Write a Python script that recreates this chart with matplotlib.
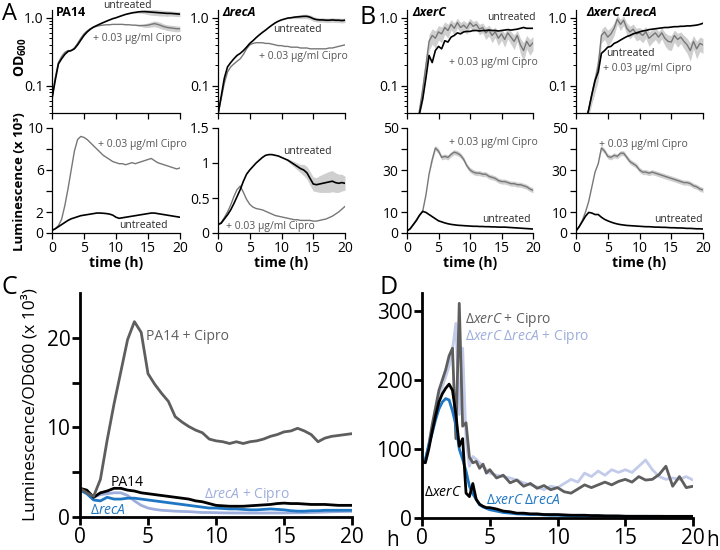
import numpy as np
import matplotlib
matplotlib.use("Agg")
import matplotlib.pyplot as plt
from matplotlib.ticker import LogLocator, NullFormatter

plt.rcParams['font.family'] = ['Open Sans', 'DejaVu Sans']
plt.rcParams['mathtext.fontset'] = 'custom'
plt.rcParams['mathtext.rm'] = 'Open Sans'
plt.rcParams['mathtext.it'] = 'Open Sans:italic'
plt.rcParams['mathtext.bf'] = 'Open Sans:bold'

# time grids (h)
t_h = np.arange(0, 20.5, 0.5)
t_d = np.concatenate([np.arange(0, 5.25, 0.25), np.arange(5.5, 20.5, 0.5)])

# ---- panel A: PA14 ----
pa14_od_unt = [0.065, 0.12, 0.21, 0.25, 0.29, 0.32, 0.33, 0.35, 0.40, 0.47,
               0.55, 0.62, 0.68, 0.73, 0.77, 0.81, 0.85, 0.89, 0.93, 0.97,
               1.00, 1.04, 1.08, 1.12, 1.15, 1.18, 1.20, 1.22, 1.23, 1.23,
               1.22, 1.21, 1.20, 1.19, 1.18, 1.17, 1.16, 1.16, 1.15, 1.14, 1.13]
pa14_od_unt_sd = [0.0] * 24 + [0.01, 0.02, 0.03, 0.05, 0.07, 0.09, 0.11, 0.12,
                               0.12, 0.12, 0.12, 0.11, 0.11, 0.10, 0.10, 0.10, 0.09]
pa14_od_cip = [0.065, 0.13, 0.22, 0.27, 0.31, 0.33, 0.33, 0.36, 0.42, 0.50,
               0.58, 0.64, 0.69, 0.73, 0.75, 0.77, 0.78, 0.79, 0.79, 0.80,
               0.80, 0.80, 0.80, 0.79, 0.79, 0.78, 0.78, 0.77, 0.77, 0.77,
               0.78, 0.80, 0.82, 0.80, 0.77, 0.74, 0.72, 0.71, 0.70, 0.69, 0.69]
pa14_od_cip_sd = [0.0] * 26 + [0.01, 0.02, 0.03, 0.05, 0.06, 0.07, 0.08, 0.08,
                               0.08, 0.07, 0.07, 0.07, 0.07, 0.07, 0.06]
pa14_lum_unt = [0.25, 0.4, 0.6, 0.8, 1.0, 1.2, 1.35, 1.45, 1.55, 1.65,
                1.7, 1.75, 1.8, 1.85, 1.9, 1.9, 1.88, 1.85, 1.8, 1.7,
                1.5, 1.4, 1.45, 1.5, 1.55, 1.6, 1.65, 1.7, 1.75, 1.8,
                1.85, 1.9, 1.9, 1.85, 1.8, 1.75, 1.7, 1.65, 1.6, 1.55, 1.5]
pa14_lum_cip = [0.25, 0.4, 0.7, 1.3, 2.6, 4.2, 6.0, 7.8, 8.9, 9.2,
                9.1, 8.9, 8.6, 8.3, 8.0, 7.7, 7.4, 7.2, 7.0, 6.8,
                6.7, 6.6, 6.6, 6.5, 6.6, 6.7, 6.6, 6.7, 6.8, 6.9,
                7.0, 7.1, 6.9, 6.7, 6.6, 6.5, 6.4, 6.3, 6.2, 6.1, 6.2]

# ---- panel A: delta recA ----
reca_od_unt = [0.038, 0.07, 0.13, 0.19, 0.22, 0.25, 0.28, 0.30, 0.33, 0.37,
               0.42, 0.46, 0.51, 0.56, 0.61, 0.66, 0.72, 0.78, 0.84, 0.89,
               0.93, 0.96, 0.99, 1.00, 1.02, 1.03, 1.04, 1.05, 1.05, 1.02,
               0.97, 0.94, 0.93, 0.93, 0.92, 0.92, 0.93, 0.92, 0.92, 0.91, 0.92]
reca_od_unt_sd = [0.0] * 22 + [0.02, 0.03, 0.05, 0.06, 0.07, 0.08, 0.08, 0.08,
                               0.08, 0.07, 0.07, 0.07, 0.07, 0.07, 0.07, 0.07,
                               0.07, 0.07, 0.07]
reca_od_cip = [0.038, 0.065, 0.11, 0.16, 0.19, 0.21, 0.23, 0.25, 0.29, 0.35,
               0.40, 0.42, 0.43, 0.43, 0.43, 0.42, 0.42, 0.41, 0.40, 0.39,
               0.39, 0.38, 0.38, 0.37, 0.37, 0.37, 0.36, 0.36, 0.36, 0.35,
               0.35, 0.35, 0.35, 0.35, 0.35, 0.36, 0.36, 0.37, 0.38, 0.39, 0.40]
reca_lum_unt = [0.12, 0.14, 0.2, 0.26, 0.33, 0.42, 0.52, 0.62, 0.74, 0.84,
                0.9, 0.95, 1.0, 1.04, 1.08, 1.11, 1.12, 1.12, 1.11, 1.10,
                1.08, 1.06, 1.04, 1.01, 0.98, 0.95, 0.92, 0.9, 0.86, 0.78,
                0.7, 0.69, 0.7, 0.71, 0.72, 0.73, 0.74, 0.72, 0.71, 0.72, 0.71]
reca_lum_unt_sd = [0.0] * 22 + [0.02, 0.03, 0.04, 0.05, 0.06, 0.08, 0.09, 0.1,
                                0.1, 0.1, 0.12, 0.13, 0.14, 0.15, 0.15, 0.14,
                                0.13, 0.12, 0.1]
reca_lum_cip = [0.12, 0.15, 0.22, 0.3, 0.4, 0.52, 0.62, 0.67, 0.58, 0.48,
                0.41, 0.37, 0.35, 0.34, 0.33, 0.31, 0.29, 0.27, 0.25, 0.24,
                0.23, 0.22, 0.21, 0.2, 0.19, 0.19, 0.18, 0.18, 0.18, 0.18,
                0.17, 0.17, 0.18, 0.19, 0.2, 0.22, 0.24, 0.27, 0.3, 0.34, 0.38]

# ---- panel B: delta xerC ----
xerc_od_unt = [0.02, 0.02, 0.02, 0.025, 0.04, 0.065, 0.13, 0.28, 0.22, 0.33,
               0.38, 0.35, 0.46, 0.44, 0.52, 0.55, 0.6, 0.58, 0.62, 0.63,
               0.63, 0.65, 0.65, 0.64, 0.65, 0.65, 0.66, 0.65, 0.65, 0.64,
               0.65, 0.66, 0.67, 0.66, 0.67, 0.68, 0.7, 0.72, 0.7, 0.7, 0.7]
xerc_od_cip = [0.02, 0.02, 0.02, 0.025, 0.045, 0.09, 0.2, 0.45, 0.55, 0.5,
               0.62, 0.58, 0.72, 0.65, 0.8, 0.7, 0.85, 0.72, 0.78, 0.7,
               0.85, 0.75, 0.8, 0.68, 0.72, 0.6, 0.66, 0.55, 0.62, 0.5,
               0.58, 0.48, 0.6, 0.52, 0.45, 0.55, 0.4, 0.33, 0.45, 0.38, 0.43]
xerc_od_cip_sd = [0, 0, 0, 0, 0.01, 0.03, 0.06, 0.12, 0.14, 0.14,
                  0.15, 0.15, 0.15, 0.15, 0.14, 0.14, 0.14, 0.13, 0.13, 0.13,
                  0.13, 0.13, 0.12, 0.12, 0.12, 0.12, 0.12, 0.12, 0.11, 0.11,
                  0.11, 0.11, 0.11, 0.11, 0.11, 0.1, 0.1, 0.1, 0.1, 0.1, 0.1]
xerc_lum_unt = [1, 2, 4, 6, 8.5, 10.3, 9.8, 8.8, 7.8, 6.8,
                5.8, 5.3, 4.8, 4.4, 4.1, 3.9, 3.7, 3.6, 3.5, 3.4,
                3.3, 3.2, 3.2, 3.1, 3.1, 3.0, 3.0, 2.9, 2.9, 2.8,
                2.8, 2.8, 2.7, 2.6, 2.5, 2.4, 2.3, 2.2, 2.1, 2.0, 1.9]
xerc_lum_cip = [1, 2, 4, 6.3, 8.5, 10.5, 18, 28, 35, 40.5,
                39, 36, 36.5, 36, 37.5, 38.5, 38, 37, 35, 32,
                30, 29, 28.5, 28.5, 28, 28, 27, 26.5, 26, 25,
                24.5, 24.5, 24, 23.5, 23.5, 23, 23, 22.5, 22, 21, 20.3]
xerc_lum_cip_sd = [0.0] * 8 + [1.2] * 33

# ---- panel B: delta xerC delta recA ----
xr_od_unt = [0.02, 0.02, 0.02, 0.03, 0.045, 0.075, 0.12, 0.16, 0.3, 0.33,
             0.37, 0.38, 0.42, 0.44, 0.47, 0.5, 0.53, 0.55, 0.58, 0.6,
             0.62, 0.64, 0.65, 0.67, 0.68, 0.69, 0.7, 0.71, 0.72, 0.72,
             0.73, 0.74, 0.74, 0.75, 0.75, 0.76, 0.76, 0.77, 0.78, 0.8, 0.83]
xr_od_cip = [0.02, 0.02, 0.02, 0.03, 0.045, 0.075, 0.12, 0.2, 0.55, 0.62,
             0.52, 0.58, 0.7, 0.95, 0.8, 0.92, 0.7, 0.62, 0.68, 0.58,
             0.6, 0.55, 0.62, 0.5, 0.55, 0.6, 0.52, 0.6, 0.5, 0.45,
             0.44, 0.55, 0.48, 0.52, 0.45, 0.4, 0.33, 0.45, 0.35, 0.42, 0.4]
xr_od_cip_sd = [0, 0, 0, 0, 0.01, 0.02, 0.04, 0.08, 0.12, 0.14,
                0.14, 0.14, 0.15, 0.15, 0.15, 0.15, 0.14, 0.13, 0.13, 0.12,
                0.12, 0.12, 0.12, 0.12, 0.12, 0.12, 0.11, 0.11, 0.11, 0.11,
                0.11, 0.11, 0.11, 0.1, 0.1, 0.1, 0.1, 0.1, 0.1, 0.1, 0.1]
xr_lum_unt = [1, 3, 5.5, 8, 9.8, 9.5, 8.8, 8.8, 7.5, 6.5,
              5.8, 5.2, 4.7, 4.3, 4.0, 3.8, 3.6, 3.5, 3.4, 3.3,
              3.2, 3.1, 3.0, 3.0, 2.9, 2.8, 2.8, 2.7, 2.7, 2.6,
              2.5, 2.5, 2.4, 2.4, 2.3, 2.2, 2.2, 2.1, 2.0, 2.0, 1.9]
xr_lum_cip = [1, 3, 6, 10, 15, 22, 29, 33, 40.5, 39,
              36.5, 36, 37, 36.5, 38, 38, 36, 34, 33, 32,
              30, 29, 29, 28.5, 29, 28.5, 28, 27.5, 27, 26.5,
              26, 25.5, 25, 24.5, 24, 24, 23.5, 22.5, 22, 21, 20.5]
xr_lum_cip_sd = [0.0] * 8 + [1.2] * 33

# ---- panel C: luminescence / OD600 (x 10^3) ----
c_pa14_cip = [3.2, 2.7, 2.3, 4.2, 8.6, 12.6, 16.2, 19.8, 21.8, 20.6,
              16.0, 14.8, 13.8, 12.9, 11.2, 10.6, 10.1, 9.7, 9.4, 8.7,
              8.5, 8.4, 8.2, 8.4, 8.2, 8.4, 8.5, 8.7, 9.0, 9.2,
              9.5, 9.6, 9.9, 9.6, 9.2, 8.4, 8.8, 9.0, 9.1, 9.2, 9.3]
c_pa14 = [3.2, 3.0, 2.2, 2.7, 2.9, 3.2, 3.2, 3.0, 2.9, 2.7,
          2.6, 2.5, 2.4, 2.3, 2.2, 2.1, 2.0, 1.8, 1.7, 1.5,
          1.3, 1.25, 1.2, 1.2, 1.2, 1.25, 1.3, 1.35, 1.4, 1.5,
          1.55, 1.5, 1.5, 1.45, 1.4, 1.4, 1.4, 1.35, 1.3, 1.3, 1.3]
c_reca = [3.0, 2.6, 1.9, 1.8, 2.2, 2.0, 2.0, 2.1, 2.1, 2.0,
          1.9, 1.8, 1.7, 1.6, 1.5, 1.4, 1.3, 1.2, 1.1, 1.0,
          1.0, 0.95, 0.9, 0.9, 0.85, 0.8, 0.8, 0.85, 0.9, 0.85,
          0.8, 0.7, 0.65, 0.65, 0.7, 0.7, 0.75, 0.75, 0.75, 0.75, 0.75]
c_reca_cip = [3.2, 2.8, 2.2, 2.5, 2.6, 2.7, 2.7, 2.4, 1.8, 1.3,
              1.0, 0.85, 0.75, 0.7, 0.65, 0.62, 0.6, 0.55, 0.5, 0.5,
              0.48, 0.46, 0.45, 0.45, 0.45, 0.44, 0.44, 0.44, 0.45, 0.45,
              0.45, 0.46, 0.47, 0.48, 0.5, 0.52, 0.55, 0.58, 0.6, 0.62, 0.63]

# ---- panel D: luminescence / OD600 ----
d_xerc = [82, 80, 100, 125, 148, 168, 180, 188, 194, 185, 150, 104, 115, 36, 31,
          50, 27, 20, 17, 15, 15,
          13, 10, 9, 7, 7, 6, 6, 5, 5, 5, 4.5, 4, 4, 4, 3.5,
          3.5, 3, 3, 3, 2.5, 2.5, 2.5, 2.5, 2.5, 2.5, 2.4, 2.4, 2.4, 2.4, 2.4]
d_xr = [82, 85, 105, 123, 142, 158, 168, 173, 171, 155, 135, 100, 85, 68, 46,
        35, 27, 19, 16, 14, 12,
        10, 8, 7, 6, 5.5, 5, 5, 4.5, 4, 4, 3.5, 3.5, 3, 3, 3,
        3, 2.8, 2.6, 2.5, 2.5, 2.4, 2.4, 2.4, 2.3, 2.3, 2.3, 2.2, 2.2, 2.2, 2.2]
d_xerc_cip = [80, 82, 105, 135, 160, 185, 200, 215, 235, 246, 115, 311, 133, 138, 88,
              80, 82, 72, 78, 65, 70,
              58, 62, 51, 55, 46, 50, 43, 47, 41, 44, 38, 36, 42, 48, 44,
              48, 52, 48, 53, 56, 52, 60, 55, 56, 63, 75, 46, 60, 44, 46]
d_xr_cip = [82, 85, 108, 130, 155, 178, 190, 205, 220, 244, 282, 150, 246, 114, 75,
            89, 85, 80, 75, 70, 65,
            62, 60, 58, 55, 51, 48, 45, 41, 46, 44, 50, 56, 52, 65, 60,
            68, 62, 70, 66, 70, 66, 75, 84, 70, 60, 56, 58, 56, 60, 55]

W, H = 720, 550
fig = plt.figure(figsize=(7.2, 5.5), dpi=100)

GREY = '#777777'
BAND = '#cfcfcf'
DGREY = '#5e5e5e'
BLUE = '#1f77c4'
LAV = '#9eaedc'
LAV_D = '#c3cbea'


def px_axes(x0, y0, x1, y1):
    return fig.add_axes([x0 / W, 1 - y1 / H, (x1 - x0) / W, (y1 - y0) / H])


def ftext(x, y, s, **kw):
    kw.setdefault('ha', 'center')
    kw.setdefault('va', 'center')
    return fig.text(x / W, 1 - y / H, s, **kw)


def small_style(ax):
    ax.spines[['top', 'right']].set_visible(False)
    ax.spines[['left', 'bottom']].set_linewidth(0.9)
    ax.tick_params(direction='out', length=4, width=0.9, labelsize=10, pad=2)
    ax.set_xlim(0, 20)
    ax.set_xticks([0, 5, 10, 15, 20])


def band(ax, t, y, sd):
    y = np.array(y)
    sd = np.array(sd)
    ax.fill_between(t, y - sd, y + sd, color=BAND, lw=0)


def od_panel(x0, x1, unt, cip, unt_sd=None, cip_sd=None):
    ax = px_axes(x0, 10, x1, 113)
    small_style(ax)
    if cip_sd is not None:
        band(ax, t_h, cip, cip_sd)
    if unt_sd is not None:
        band(ax, t_h, unt, unt_sd)
    ax.plot(t_h, cip, color=GREY, lw=1.0)
    ax.plot(t_h, unt, color='black', lw=1.2)
    ax.set_yscale('log')
    ax.set_ylim(0.04, 1.3)
    ax.set_yticks([0.1, 1.0])
    ax.set_yticklabels(['0.1', '1.0'])
    ax.yaxis.set_minor_locator(LogLocator(subs=np.arange(2, 10)))
    ax.yaxis.set_minor_formatter(NullFormatter())
    ax.tick_params(which='minor', length=2.2, width=0.7)
    ax.set_xticklabels([])
    return ax


def lum_panel(x0, x1, unt, cip, ymax, yticks, ylabels, unt_sd=None, cip_sd=None):
    ax = px_axes(x0, 128, x1, 233)
    small_style(ax)
    if cip_sd is not None:
        band(ax, t_h, cip, cip_sd)
    if unt_sd is not None:
        band(ax, t_h, unt, unt_sd)
    ax.plot(t_h, cip, color=GREY, lw=1.0)
    ax.plot(t_h, unt, color='black', lw=1.2)
    ax.set_ylim(0, ymax)
    ax.set_yticks(yticks)
    ax.set_yticklabels(ylabels)
    ax.set_xticklabels(['0', '5', '10', '15', '20'])
    ax.set_xlabel('time (h)', fontsize=10, fontweight='bold', labelpad=0)
    return ax


# top rows
od_panel(52, 180, pa14_od_unt, pa14_od_cip, pa14_od_unt_sd, pa14_od_cip_sd)
od_panel(218, 345, reca_od_unt, reca_od_cip, reca_od_unt_sd)
od_panel(407, 533, xerc_od_unt, xerc_od_cip, None, xerc_od_cip_sd)
od_panel(576, 703, xr_od_unt, xr_od_cip, None, xr_od_cip_sd)

lum_panel(52, 180, pa14_lum_unt, pa14_lum_cip, 10, [0, 2, 4, 6, 8, 10],
          ['0', '2', '', '6', '', '10'])
lum_panel(218, 345, reca_lum_unt, reca_lum_cip, 1.5, [0, 0.5, 1, 1.5],
          ['0', '0.5', '1', '1.5'], reca_lum_unt_sd)
lum_panel(407, 533, xerc_lum_unt, xerc_lum_cip, 50, [0, 10, 20, 30, 40, 50],
          ['0', '10', '', '30', '', '50'], None, xerc_lum_cip_sd)
lum_panel(576, 703, xr_lum_unt, xr_lum_cip, 50, [0, 10, 20, 30, 40, 50],
          ['0', '10', '', '30', '', '50'], None, xr_lum_cip_sd)


def big_style(ax):
    ax.spines[['top', 'right']].set_visible(False)
    ax.spines[['left', 'bottom']].set_linewidth(2)
    ax.tick_params(direction='out', length=6, width=2, labelsize=15, pad=1)
    ax.set_xlim(0, 20)
    ax.set_xticks([0, 5, 10, 15, 20])


# panel C
axc = px_axes(80, 293, 352, 517)
big_style(axc)
axc.plot(t_h, c_reca_cip, color=LAV, lw=2)
axc.plot(t_h, c_reca, color=BLUE, lw=2)
axc.plot(t_h, c_pa14, color='black', lw=2)
axc.plot(t_h, c_pa14_cip, color=DGREY, lw=2)
axc.set_ylim(0, 25)
axc.set_yticks([0, 5, 10, 15, 20])
axc.set_yticklabels(['0', '', '10', '', '20'])

# panel D
axd = px_axes(422, 293, 693, 518)
big_style(axd)
axd.plot(t_d, d_xr_cip, color=LAV_D, lw=2)
axd.plot(t_d, d_xerc_cip, color=DGREY, lw=2)
axd.plot(t_d, d_xr, color=BLUE, lw=2)
axd.plot(t_d, d_xerc, color='black', lw=2)
axd.set_ylim(0, 326)
axd.set_yticks([0, 100, 200, 300])

# panel letters
ftext(9, 14, 'A', fontsize=17)
ftext(368, 17, 'B', fontsize=18)
ftext(9, 287, 'C', fontsize=18)
ftext(389, 287, 'D', fontsize=18)

# strain titles
ftext(56, 13, 'PA14', ha='left', fontsize=9, fontweight='bold')
ftext(222, 13, '\u0394recA', ha='left', fontsize=9, fontweight='bold', style='italic')
ftext(412, 13, '\u0394xerC', ha='left', fontsize=9, fontweight='bold', style='italic')
ftext(586, 13, '\u0394xerC \u0394recA', ha='left', fontsize=9, fontweight='bold', style='italic')

# axis titles for the top rows
ftext(21, 57, r'OD$\mathbf{_{600}}$', rotation=90, fontsize=10, fontweight='bold')
ftext(20, 182, 'Luminescence (x 10\u00b3)', rotation=90, fontsize=9.5, fontweight='bold')
ftext(30, 405, 'Luminescence/OD600 (x 10\u00b3)', rotation=90, fontsize=12.5)

# curve annotations, top rows
UNT_C = '#2a2a2a'
CIP_C = '#555555'
cip_txt = '+ 0.03 \u00b5g/ml Cipro'
ann = [
    (127, 5, 'untreated', UNT_C), (137, 38, cip_txt, CIP_C),
    (297, 30, 'untreated', UNT_C), (303, 56, cip_txt, CIP_C),
    (511, 18, 'untreated', UNT_C), (493, 63, cip_txt, CIP_C),
    (630, 53, 'untreated', UNT_C), (647, 68, cip_txt, CIP_C),
    (142, 144, cip_txt, CIP_C), (143, 225, 'untreated', UNT_C),
    (307, 152, 'untreated', UNT_C), (270, 227, cip_txt, CIP_C),
    (493, 142, cip_txt, CIP_C), (506, 220, 'untreated', UNT_C),
    (643, 145, cip_txt, CIP_C), (678, 220, 'untreated', UNT_C),
]
for x, y, s, c in ann:
    ftext(x, y, s, fontsize=7.5, color=c)

# curve annotations, panels C and D
ftext(187, 336, 'PA14 + Cipro', fontsize=10, color=DGREY)
ftext(127, 482, 'PA14', fontsize=10, color='black')
ftext(247, 495, r'$\Delta\mathit{recA}$ + Cipro', fontsize=10, color=LAV)
ftext(108, 510, r'$\Delta\mathit{recA}$', fontsize=10, color=BLUE)
ftext(465, 320, r'$\Delta\mathit{xerC}$ + Cipro', ha='left', fontsize=10, color=DGREY)
ftext(465, 337, r'$\Delta\mathit{xerC}$ $\Delta\mathit{recA}$ + Cipro', ha='left',
      fontsize=10, color=LAV)
ftext(443, 493, r'$\Delta\mathit{xerC}$', fontsize=10, color='black')
ftext(523, 500, r'$\Delta\mathit{xerC}$ $\Delta\mathit{recA}$', fontsize=10, color=BLUE)

ftext(393, 541, 'h', fontsize=15)
ftext(713, 541, 'h', fontsize=15)

fig.savefig('out.png', dpi=100)
